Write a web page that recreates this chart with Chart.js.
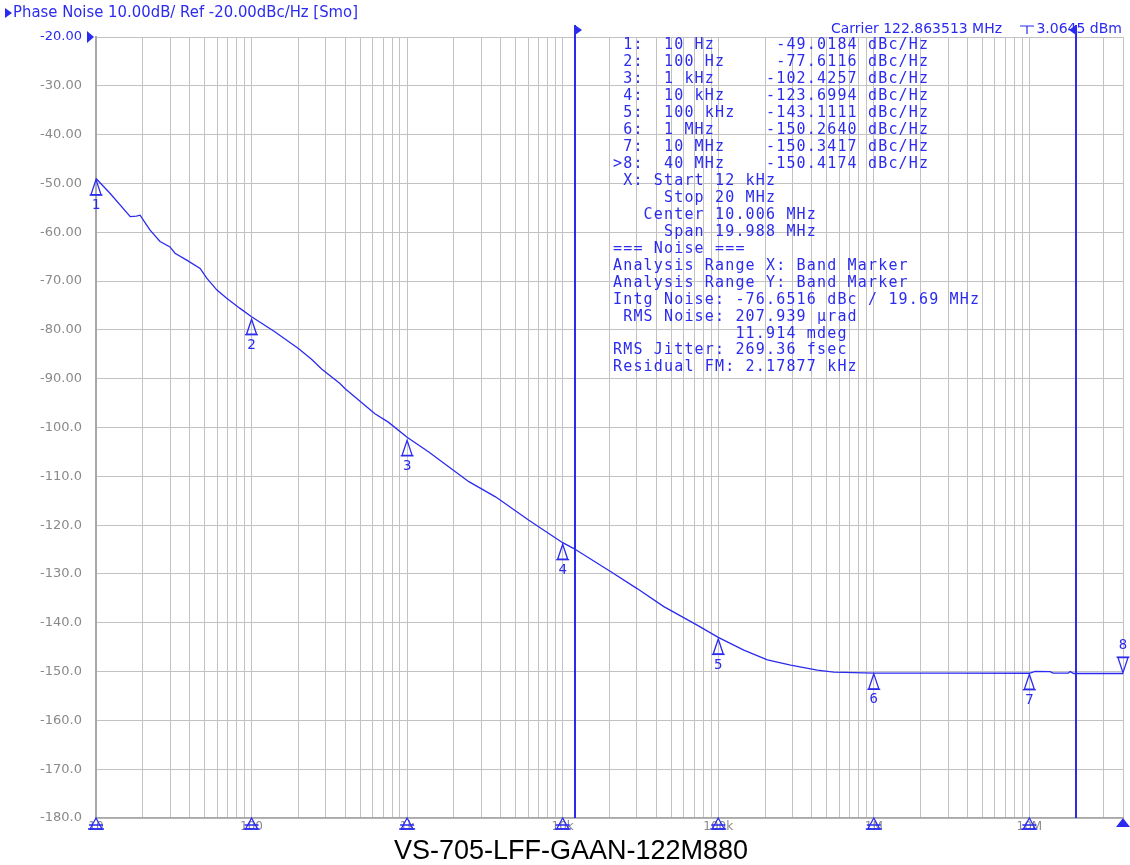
<!DOCTYPE html>
<html>
<head>
<meta charset="utf-8">
<script src="https://cdn.jsdelivr.net/npm/chart.js@4.4.1/dist/chart.umd.min.js"></script>
<style>
  html, body { margin: 0; padding: 0; background: #fff; }
  #wrap { width: 1130px; height: 865px; position: relative; }
</style>
</head>
<body>
<div id="wrap"><canvas id="chart"></canvas></div>
<script>
// trace (Hz, dBc/Hz)
const traceFreqs = [10, 12.3, 16.6, 18.2, 19.2, 22.2, 25.8, 29.9, 32.2, 38.3, 46.7, 51.5, 59.7, 69.2, 84.3,
  100, 141, 200, 243, 282, 370, 398, 621, 757, 1000, 1378, 2494, 3700, 6063,
  10000, 11800, 20300, 30100, 44700, 73200, 100000, 146000, 207000, 292000, 433000, 554000,
  1000000, 3000000, 10000000, 10900000, 13600000, 14200000, 17800000, 18300000, 19300000, 40000000];
const traceLevels = [-49.0, -52.0, -56.8, -56.7, -56.5, -59.5, -61.9, -63.0, -64.3, -65.7, -67.4, -69.4, -71.8, -73.5, -75.6,
  -77.3, -80.4, -83.8, -86.0, -88.0, -91.0, -92.0, -97.2, -98.9, -102.0, -105.0, -111.1, -114.2, -119.0,
  -123.6, -124.8, -129.5, -133.0, -136.7, -140.5, -143.0, -145.6, -147.6, -148.7, -149.7, -150.1,
  -150.3, -150.3, -150.35, -149.95, -150.0, -150.3, -150.3, -150.0, -150.4, -150.4];

const markerFreqs = [10, 100, 1e3, 1e4, 1e5, 1e6, 1e7, 4e7];
const markerLevels = [-49.0184, -77.6116, -102.4257, -123.6994, -143.1111, -150.2640, -150.3417, -150.4174];
const markerNames = ['1', '2', '3', '4', '5', '6', '7', '8'];

const decadeTicks = [10, 100, 1e3, 1e4, 1e5, 1e6, 1e7];
const decadeLabels = ['10', '100', '1k', '10k', '100k', '1M', '10M'];

const bandStart = 12e3;
const bandStop = 20e6;

const titleText = 'Phase Noise 10.00dB/ Ref -20.00dBc/Hz [Smo]';
const carrierText = 'Carrier 122.863513 MHz';
const carrierPower = '3.0645 dBm';
const captionText = 'VS-705-LFF-GAAN-122M880';

const readoutLines = [
  ' 1:  10 Hz      -49.0184 dBc/Hz',
  ' 2:  100 Hz     -77.6116 dBc/Hz',
  ' 3:  1 kHz     -102.4257 dBc/Hz',
  ' 4:  10 kHz    -123.6994 dBc/Hz',
  ' 5:  100 kHz   -143.1111 dBc/Hz',
  ' 6:  1 MHz     -150.2640 dBc/Hz',
  ' 7:  10 MHz    -150.3417 dBc/Hz',
  '>8:  40 MHz    -150.4174 dBc/Hz',
  ' X: Start 12 kHz',
  '     Stop 20 MHz',
  '   Center 10.006 MHz',
  '     Span 19.988 MHz',
  '=== Noise ===',
  'Analysis Range X: Band Marker',
  'Analysis Range Y: Band Marker',
  'Intg Noise: -76.6516 dBc / 19.69 MHz',
  ' RMS Noise: 207.939 \u00b5rad',
  '            11.914 mdeg',
  'RMS Jitter: 269.36 fsec',
  'Residual FM: 2.17877 kHz',
];

const BLUE = '#2b2bef';
const GRID = '#c2c2c2';
const TICK = '#8a8a8a';

// grid lines at 1..9 of each decade
const gridFreqs = [];
for (let d = 1; d <= 6; d++) {
  for (let m = 1; m <= 9; m++) gridFreqs.push(m * Math.pow(10, d));
}
gridFreqs.push(1e7, 2e7, 3e7, 4e7);

function tri(ctx, pts, fill) {
  ctx.beginPath();
  ctx.moveTo(pts[0][0], pts[0][1]);
  for (let i = 1; i < pts.length; i++) ctx.lineTo(pts[i][0], pts[i][1]);
  ctx.closePath();
  if (fill) ctx.fill(); else ctx.stroke();
}

const overlay = {
  id: 'overlay',
  afterDatasetsDraw(chart) {
    const ctx = chart.ctx;
    const xs = chart.scales.x, ys = chart.scales.y;
    const area = chart.chartArea;
    ctx.save();

    // band marker lines
    ctx.strokeStyle = BLUE;
    ctx.fillStyle = BLUE;
    ctx.lineWidth = 2;
    [bandStart, bandStop].forEach((f, i) => {
      const px = Math.round(xs.getPixelForValue(f));
      ctx.beginPath();
      ctx.moveTo(px, 25);
      ctx.lineTo(px, area.bottom);
      ctx.stroke();
      if (i === 0) tri(ctx, [[px, 25], [px + 7, 30], [px, 35]], true);
      else tri(ctx, [[px, 25], [px - 7, 30], [px, 35]], true);
    });

    // trace markers
    ctx.lineWidth = 1.3;
    ctx.font = '14px "DejaVu Sans Mono"';
    ctx.textAlign = 'center';
    ctx.textBaseline = 'middle';
    markerFreqs.forEach((f, i) => {
      const px = xs.getPixelForValue(f);
      const py = ys.getPixelForValue(markerLevels[i]);
      if (i < markerFreqs.length - 1) {
        tri(ctx, [[px, py + 1], [px + 5, py + 16], [px - 5, py + 16]], false);
        ctx.beginPath();
        ctx.moveTo(px - 6.5, py + 16.5); ctx.lineTo(px + 6.5, py + 16.5);
        ctx.stroke();
        ctx.fillText(markerNames[i], px, py + 27);
      } else {
        tri(ctx, [[px, py - 1], [px + 5, py - 16], [px - 5, py - 16]], false);
        ctx.beginPath();
        ctx.moveTo(px - 6.5, py - 16.5); ctx.lineTo(px + 6.5, py - 16.5);
        ctx.stroke();
        ctx.fillText(markerNames[i], px, py - 28);
      }
    });

    // stimulus markers on the x axis
    decadeTicks.forEach(f => {
      const px = xs.getPixelForValue(f);
      tri(ctx, [[px, area.bottom], [px + 6, area.bottom + 11], [px - 6, area.bottom + 11]], false);
      ctx.beginPath();
      ctx.moveTo(px - 8, area.bottom + 11); ctx.lineTo(px + 8, area.bottom + 11);
      ctx.moveTo(px - 7, area.bottom + 7); ctx.lineTo(px + 7, area.bottom + 7);
      ctx.stroke();
    });
    tri(ctx, [[area.right, area.bottom], [area.right + 7, area.bottom + 9], [area.right - 7, area.bottom + 9]], true);

    // reference level arrow
    const ry = ys.getPixelForValue(-20);
    tri(ctx, [[area.left - 9, ry - 6], [area.left - 2, ry], [area.left - 9, ry + 6]], true);
    ctx.restore();
  },
  afterDraw(chart) {
    const ctx = chart.ctx;
    ctx.save();
    ctx.fillStyle = BLUE;
    ctx.strokeStyle = BLUE;
    ctx.textBaseline = 'middle';

    // header
    tri(ctx, [[5, 8], [12, 13], [5, 18]], true);
    ctx.font = '15px "DejaVu Sans"';
    ctx.textAlign = 'left';
    ctx.fillText(titleText, 13, 13, 345);
    ctx.font = '14px "DejaVu Sans"';
    ctx.fillText(carrierText, 831, 29, 171);
    ctx.textAlign = 'right';
    ctx.fillText(carrierPower, 1122, 29, 89);
    ctx.lineWidth = 1.2;
    ctx.beginPath();
    ctx.moveTo(1020, 26); ctx.lineTo(1034, 26);
    ctx.moveTo(1027, 26); ctx.lineTo(1027, 34);
    ctx.stroke();

    // marker / noise readout, fixed-pitch
    ctx.font = '15px "DejaVu Sans Mono"';
    ctx.textAlign = 'left';
    readoutLines.forEach((line, r) => {
      const y = 45.5 + r * 16.95;
      for (let c = 0; c < line.length; c++) {
        if (line[c] !== ' ') ctx.fillText(line[c], 613 + c * 10.2, y);
      }
    });

    // caption
    ctx.fillStyle = '#000';
    ctx.textAlign = 'center';
    ctx.textBaseline = 'alphabetic';
    ctx.font = '27px "Liberation Sans"';
    ctx.fillText(captionText, 571, 859);
    ctx.restore();
  }
};

const ctx = document.getElementById('chart').getContext('2d');
new Chart(ctx, {
  type: 'line',
  data: {
    datasets: [{
      label: 'Phase Noise',
      data: traceFreqs.map((f, i) => ({ x: f, y: traceLevels[i] })),
      borderColor: BLUE,
      borderWidth: 1.3,
      pointRadius: 0,
      tension: 0,
      fill: false,
    }],
  },
  options: {
    responsive: true,
    maintainAspectRatio: false,
    animation: false,
    layout: { padding: { left: 0, top: 37, right: 7, bottom: 0 } },
    plugins: {
      legend: { display: false },
      tooltip: { enabled: false },
    },
    scales: {
      x: {
        type: 'logarithmic',
        min: 10,
        max: 4e7,
        afterBuildTicks: scale => { scale.ticks = gridFreqs.map(v => ({ value: v })); },
        afterFit: scale => { scale.height = 47; },
        grid: { color: GRID, lineWidth: 1, drawTicks: false },
        border: { color: '#a8a8a8', width: 1.5 },
        ticks: {
          autoSkip: false,
          maxRotation: 0,
          padding: 2,
          color: TICK,
          font: { family: 'DejaVu Sans', size: 12 },
          callback: value => {
            const k = decadeTicks.indexOf(value);
            return k >= 0 ? decadeLabels[k] : '';
          },
        },
      },
      y: {
        min: -180,
        max: -20,
        afterFit: scale => { scale.width = 96; },
        grid: { color: GRID, lineWidth: 1, drawTicks: false },
        border: { color: '#a8a8a8', width: 2 },
        ticks: {
          stepSize: 10,
          padding: 14,
          color: c => (c.tick && c.tick.value === -20 ? BLUE : TICK),
          font: { family: 'DejaVu Sans', size: 13 },
          callback: v => (v > -100 ? v.toFixed(2) : v.toFixed(1)),
        },
      },
    },
  },
  plugins: [overlay],
});
</script>
</body>
</html>
